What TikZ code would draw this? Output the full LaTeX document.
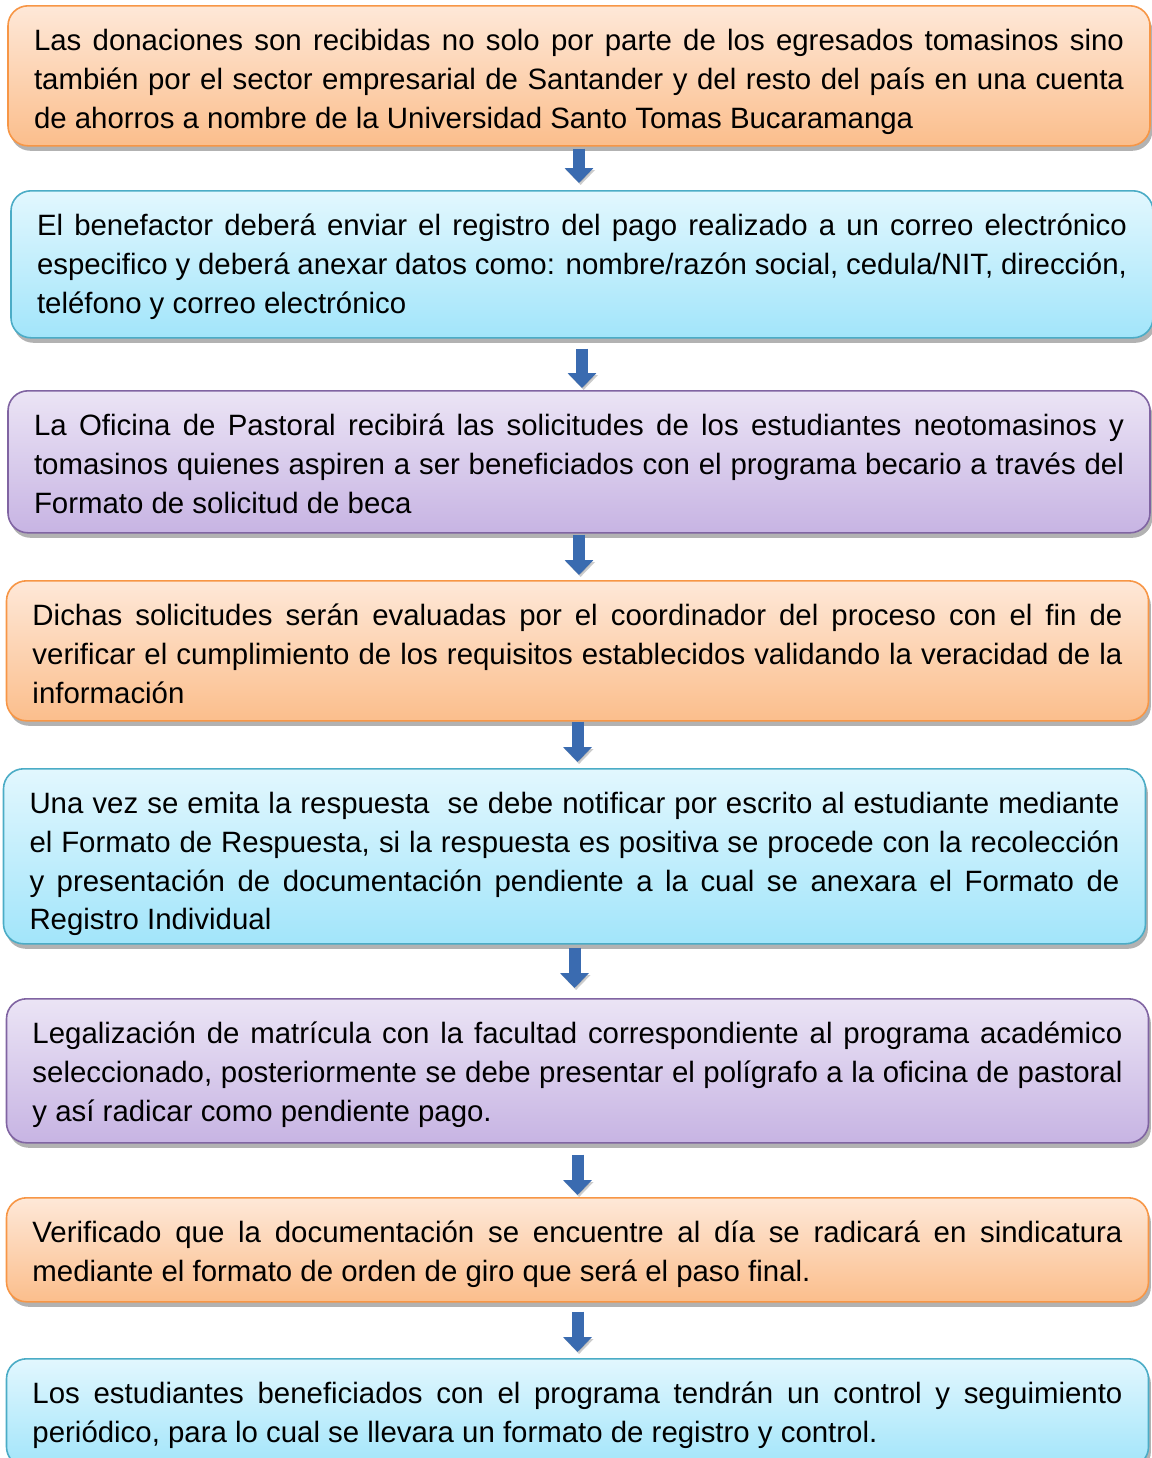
\documentclass[tikz,border=0pt]{standalone}
\usepackage{fontspec}
\setmainfont{Liberation Sans}
\usetikzlibrary{arrows.meta,shadows}
\definecolor{naranjaborde}{HTML}{F79646}
\definecolor{naranjaarriba}{HTML}{FEE8D8}
\definecolor{naranjaabajo}{HTML}{FBBE8C}
\definecolor{azulborde}{HTML}{4BACC6}
\definecolor{azularriba}{HTML}{E2F7FE}
\definecolor{azulabajo}{HTML}{A2E5FA}
\definecolor{moradoborde}{HTML}{8064A2}
\definecolor{moradoarriba}{HTML}{EBE4F5}
\definecolor{moradoabajo}{HTML}{C7B4E3}
\definecolor{flechaazul}{HTML}{3A6BB0}
\definecolor{flechasombra}{HTML}{9A9A9A}
\newcommand{\arriba}{\rule{0pt}{22.5pt}}
\newcommand{\abajo}[1]{\rule[-#1]{0pt}{#1}}
\begin{document}
\begin{tikzpicture}[x=0.5pt, y=-0.5pt,
  caja/.style={anchor=north, rounded corners=10pt, line width=0.8pt, text width=545pt, inner xsep=13pt, inner ysep=0pt,
    align=justify, font=\fontsize{14.7pt}{19.3pt}\selectfont,
    drop shadow={shadow xshift=1.2pt, shadow yshift=-2.5pt, opacity=0.3, fill=black}},
  naranja/.style={caja, draw=naranjaborde, top color=naranjaarriba, bottom color=naranjaabajo},
  azul/.style={caja, draw=azulborde, top color=azularriba, bottom color=azulabajo},
  morado/.style={caja, draw=moradoborde, top color=moradoarriba, bottom color=moradoabajo},
  flecha/.style={line width=6pt, flechaazul, -{Triangle[length=7.5pt, width=14pt]},
    preaction={draw, flechasombra, opacity=0.5, transform canvas={xshift=0.8pt, yshift=-1pt}}}]
\useasboundingbox (0,0) rectangle (1152,1458);
\node (p1)[naranja] at (579, 5) {\arriba Las donaciones son recibidas no solo por parte de los egresados tomasinos sino\linebreak también por el sector empresarial de Santander y del resto del país en una cuenta\linebreak de ahorros a nombre de la Universidad Santo Tomas Bucaramanga\abajo{8.9pt}};
\node (p2)[azul] at (582, 190) {\arriba El benefactor deberá enviar el registro del pago realizado a un correo electrónico\linebreak especifico y deberá anexar datos como: nombre/razón social, cedula/NIT, dirección,\linebreak teléfono y correo electrónico\abajo{12.4pt}};
\node (p3)[morado] at (579, 390) {\arriba La Oficina de Pastoral recibirá las solicitudes de los estudiantes neotomasinos y\linebreak tomasinos quienes aspiren a ser beneficiados con el programa becario a través del\linebreak Formato de solicitud de beca\abajo{9.9pt}};
\node (p4)[naranja] at (577.5, 580) {\arriba Dichas solicitudes serán evaluadas por el coordinador del proceso con el fin de\linebreak verificar el cumplimiento de los requisitos establecidos validando la veracidad de la\linebreak información\abajo{8.9pt}};
\node (p5)[azul] at (574.5, 768) {\arriba Una vez se emita la respuesta\ \ se debe notificar por escrito al estudiante mediante\linebreak el Formato de Respuesta, si la respuesta es positiva se procede con la recolección\linebreak y presentación de documentación pendiente a la cual se anexara el Formato de\linebreak Registro Individual\abajo{7.1pt}};
\node (p6)[morado] at (577.5, 998) {\arriba Legalización de matrícula con la facultad correspondiente al programa académico\linebreak seleccionado, posteriormente se debe presentar el polígrafo a la oficina de pastoral\linebreak y así radicar como pendiente pago.\abajo{10.9pt}};
\node (p7)[naranja] at (577.5, 1197) {\arriba Verificado que la documentación se encuentre al día se radicará en sindicatura\linebreak mediante el formato de orden de giro que será el paso final.\abajo{10.2pt}};
\node (p8)[azul] at (577.5, 1358) {\arriba Los estudiantes beneficiados con el programa tendrán un control y seguimiento\linebreak periódico, para lo cual se llevara un formato de registro y control.\abajo{12.2pt}};
\foreach \a/\b/\s/\e in {p1/p2/1/3.5, p2/p3/5/1, p3/p4/0.5/2.5, p4/p5/0/3, p5/p6/1.5/5, p6/p7/5.5/1, p7/p8/4.5/3}
  \draw[flecha, shorten <=\s pt, shorten >=\e pt] (\a.south) -- (\a.south |- \b.north);
\end{tikzpicture}
\end{document}
